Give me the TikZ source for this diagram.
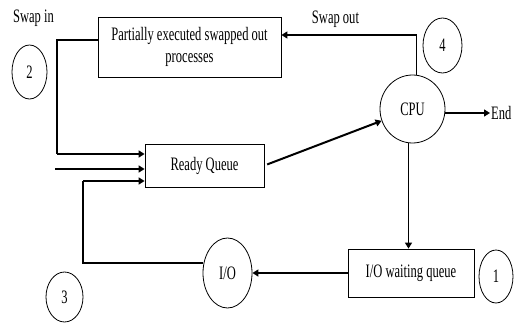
\documentclass[tikz,border=0pt]{standalone}
\usepackage{fontspec}
\setmainfont{Liberation Serif}[FakeStretch=0.66]
\usetikzlibrary{arrows.meta,shapes.geometric,calc}

\tikzset{
  box/.style = {draw, line width=0.8pt, inner sep=0pt, align=center},
  ring/.style = {draw, ellipse, line width=0.8pt, inner sep=0pt},
  flow/.style = {line width=1.3pt, -{Triangle[length=6pt,width=7pt]}},
  heavy/.style = {flow, line width=2pt},
}

\begin{document}
\begin{tikzpicture}[x=1pt, y=-1pt, font=\fontsize{19}{22}\selectfont]
\useasboundingbox (0,0) rectangle (514,324);

\node[box, minimum width=183pt, minimum height=60pt] (p) at (189.5,47) {Partially executed swapped out\\processes};
\node[box, minimum width=119pt, minimum height=43pt] (rq) at (204.5,165.5) {Ready Queue};
\node[box, minimum width=126pt, minimum height=48pt] (iw) at (411,273) {I/O waiting queue};
\node[ring, minimum width=65pt, minimum height=68pt] (cpu) at (412.5,109) {CPU};
\node[ring, minimum width=49pt, minimum height=70pt] (io) at (227.5,273) {I/O};

\node[ring, minimum width=34pt, minimum height=53pt] (n1) at (496,276.5) {1};
\node[ring, minimum width=35pt, minimum height=54pt] (n2) at (29.5,72) {2};
\node[ring, minimum width=37pt, minimum height=50pt] (n3) at (64.5,297) {3};
\node[ring, minimum width=39pt, minimum height=55pt] (n4) at (442.5,45.5) {4};

\node (si) at (33.5,18) {Swap in};
\node (so) at (335.5,19) {Swap out};
\node[anchor=west, inner sep=1pt] (end) at (490,113) {End};

\coordinate (a) at (57,154);
\coordinate (b) at (55,169);
\coordinate (c) at (83,181);

\draw[line width=1.1pt] ([yshift=7pt]p.west) -| (a);
\draw[heavy] (a) -- (a -| rq.west);
\draw[heavy] (b) -- (b -| rq.west);
\draw[line width=1.1pt] ([yshift=10pt]io.west) -| (c);
\draw[heavy] (c) -- (c -| rq.west);

\draw[heavy, shorten <=3pt] (rq.east) -- (cpu);
\draw[flow] (cpu.east |- end) -- (end.west);
\draw[flow] ([xshift=4pt]cpu.north) |- ([yshift=12pt]p.east);
\draw[flow] ([xshift=-4pt]cpu.south) -- ([xshift=-4pt]cpu.south |- iw.north);
\draw[heavy] (iw.west) -- (io.east);
\end{tikzpicture}
\end{document}
